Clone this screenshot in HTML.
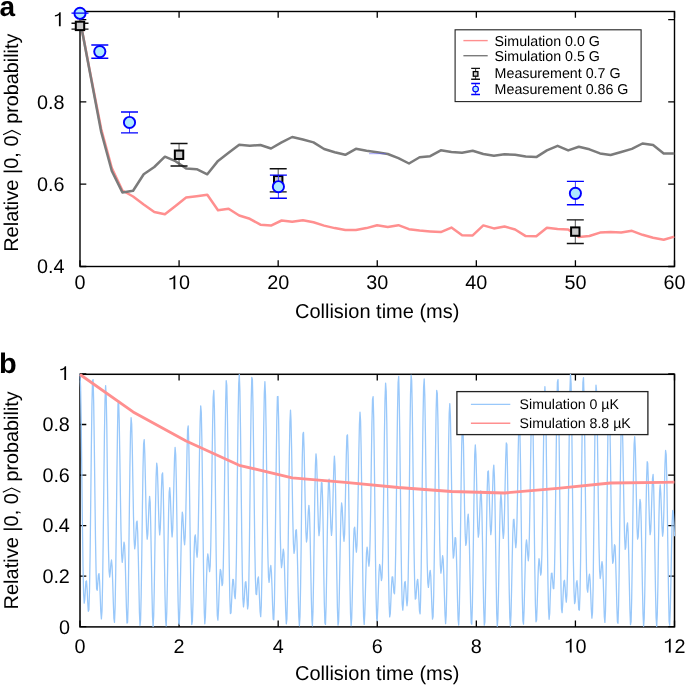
<!DOCTYPE html>
<html><head><meta charset="utf-8"><style>html,body{margin:0;padding:0;background:#fff;overflow:hidden}svg{display:block;will-change:transform;text-rendering:geometricPrecision}</style></head>
<body><svg width="685" height="685" viewBox="0 0 685 685">
<rect width="685" height="685" fill="#fff"/>
<path d="M80.00,266.5v-6.3M80.00,11.5v6.3M179.08,266.5v-6.3M179.08,11.5v6.3M278.17,266.5v-6.3M278.17,11.5v6.3M377.25,266.5v-6.3M377.25,11.5v6.3M476.33,266.5v-6.3M476.33,11.5v6.3M575.42,266.5v-6.3M575.42,11.5v6.3M674.50,266.5v-6.3M674.50,11.5v6.3M80.0,266.50h6.3M674.5,266.50h-6.3M80.0,184.20h6.3M674.5,184.20h-6.3M80.0,101.90h6.3M674.5,101.90h-6.3M80.0,19.60h6.3M674.5,19.60h-6.3" stroke="#000" stroke-width="1.3" fill="none"/>
<rect x="80.0" y="11.5" width="594.50" height="255.00" fill="none" stroke="#000" stroke-width="1.4"/>
<text x="74.49" y="289.30" font-family="Liberation Sans, sans-serif" font-size="19.8">0</text>
<path transform="translate(168.07,289.30) scale(0.00967,-0.00967)" d="M560,0L745,0L745,1434L612,1434C585,1300 455,1165 145,1137L145,1000C330,1012 470,1062 560,1150Z"/><text x="179.08" y="289.30" font-family="Liberation Sans, sans-serif" font-size="19.8">0</text>
<text x="267.15" y="289.30" font-family="Liberation Sans, sans-serif" font-size="19.8">20</text>
<text x="366.24" y="289.30" font-family="Liberation Sans, sans-serif" font-size="19.8">30</text>
<text x="465.32" y="289.30" font-family="Liberation Sans, sans-serif" font-size="19.8">40</text>
<text x="564.40" y="289.30" font-family="Liberation Sans, sans-serif" font-size="19.8">50</text>
<text x="663.49" y="289.30" font-family="Liberation Sans, sans-serif" font-size="19.8">60</text>
<text x="36.98" y="273.10" font-family="Liberation Sans, sans-serif" font-size="19.8">0.4</text>
<text x="36.98" y="190.80" font-family="Liberation Sans, sans-serif" font-size="19.8">0.6</text>
<text x="36.98" y="108.50" font-family="Liberation Sans, sans-serif" font-size="19.8">0.8</text>
<path transform="translate(53.49,26.20) scale(0.00967,-0.00967)" d="M560,0L745,0L745,1434L612,1434C585,1300 455,1165 145,1137L145,1000C330,1012 470,1062 560,1150Z"/>
<text x="377.2" y="317.9" font-family="Liberation Sans, sans-serif" font-size="20" text-anchor="middle">Collision time (ms)</text>
<polyline points="80.0,19.7 90.6,75.0 101.2,129.0 111.8,168.0 122.4,190.5 133.1,196.5 143.7,204.5 154.3,212.0 164.9,214.3 175.5,205.9 186.1,197.6 196.7,196.2 207.3,194.8 218.0,210.3 228.6,208.8 239.2,215.5 249.8,218.8 260.4,224.7 271.0,225.6 281.6,220.5 292.2,221.7 302.9,220.2 313.5,222.3 324.1,225.6 334.7,228.1 345.3,230.0 355.9,229.9 366.5,228.1 377.1,225.2 387.8,227.0 398.4,225.2 409.0,229.2 419.6,230.6 430.2,231.4 440.8,232.1 451.4,227.6 462.1,235.2 472.7,235.4 483.3,225.4 493.9,228.4 504.5,226.5 515.1,229.5 525.7,236.1 536.3,236.2 546.9,227.8 557.6,228.9 568.2,229.5 578.8,237.1 589.4,236.0 600.0,232.6 610.6,232.0 621.2,232.5 631.9,230.8 642.5,234.8 653.1,237.8 663.7,239.8 674.3,236.6" fill="none" stroke="#ff8f8f" stroke-width="2.5" stroke-linejoin="round"/>
<polyline points="80.0,19.7 90.6,76.0 101.2,132.0 111.8,171.0 122.4,192.4 133.1,190.8 143.7,174.3 154.3,167.0 164.9,156.7 175.5,161.2 186.1,168.4 196.7,169.2 207.3,174.3 218.0,160.9 228.6,152.8 239.2,144.8 249.8,145.8 260.4,145.0 271.0,148.5 281.6,142.4 292.2,137.0 302.9,139.5 313.5,142.4 324.1,149.0 334.7,152.2 345.3,154.8 355.9,148.8 366.5,150.8 377.1,152.2 387.8,154.0 398.4,158.1 409.0,163.5 419.6,157.2 430.2,156.2 440.8,150.3 451.4,152.0 462.1,152.8 472.7,150.8 483.3,154.0 493.9,155.7 504.5,154.3 515.1,154.7 525.7,156.6 536.3,157.1 546.9,150.4 557.6,145.8 568.2,150.4 578.8,146.8 589.4,149.3 600.0,153.4 610.6,155.0 621.2,152.0 631.9,148.9 642.5,143.5 653.1,145.1 663.7,153.6 674.3,153.4" fill="none" stroke="#7b7b7b" stroke-width="2.5" stroke-linejoin="round"/>
<path d="M369,153.7H385.9" stroke="#5a5aff" stroke-opacity="0.55" stroke-width="1"/>
<path d="M80.00,23.30V29.10" stroke="#555" stroke-width="1"/><path d="M71.50,23.30h17.0M71.50,29.10h17.0" stroke="#111" stroke-width="1.4"/><rect x="75.80" y="21.70" width="8.4" height="8.4" fill="#cacaca" stroke="#000" stroke-width="2.0"/>
<path d="M179.05,143.50V166.00" stroke="#555" stroke-width="1"/><path d="M170.55,143.50h17.0M170.55,166.00h17.0" stroke="#111" stroke-width="1.4"/><rect x="174.85" y="150.55" width="8.4" height="8.4" fill="#cacaca" stroke="#000" stroke-width="2.0"/>
<path d="M278.20,168.70V191.90" stroke="#555" stroke-width="1"/><path d="M269.70,168.70h17.0M269.70,191.90h17.0" stroke="#111" stroke-width="1.4"/><rect x="274.00" y="176.10" width="8.4" height="8.4" fill="#cacaca" stroke="#000" stroke-width="2.0"/>
<path d="M575.30,219.85V243.45" stroke="#555" stroke-width="1"/><path d="M566.80,219.85h17.0M566.80,243.45h17.0" stroke="#111" stroke-width="1.4"/><rect x="571.10" y="227.40" width="8.4" height="8.4" fill="#cacaca" stroke="#000" stroke-width="2.0"/>
<path d="M80.00,13.10V13.10" stroke="#3c3cff" stroke-width="1"/><circle cx="80.00" cy="13.30" r="5.6" fill="#aee9ff" stroke="#0000ff" stroke-width="1.9"/><path d="M71.50,13.10h17.0M71.50,13.10h17.0" stroke="#0000ff" stroke-width="1.4"/>
<path d="M99.80,45.00V58.20" stroke="#3c3cff" stroke-width="1"/><circle cx="99.80" cy="51.60" r="5.6" fill="#aee9ff" stroke="#0000ff" stroke-width="1.9"/><path d="M91.30,45.00h17.0M91.30,58.20h17.0" stroke="#0000ff" stroke-width="1.4"/>
<path d="M129.50,112.00V132.90" stroke="#3c3cff" stroke-width="1"/><circle cx="129.50" cy="122.45" r="5.6" fill="#aee9ff" stroke="#0000ff" stroke-width="1.9"/><path d="M121.00,112.00h17.0M121.00,132.90h17.0" stroke="#0000ff" stroke-width="1.4"/>
<path d="M278.40,175.10V198.30" stroke="#3c3cff" stroke-width="1"/><circle cx="278.40" cy="186.70" r="5.6" fill="#aee9ff" stroke="#0000ff" stroke-width="1.9"/><path d="M269.90,175.10h17.0M269.90,198.30h17.0" stroke="#0000ff" stroke-width="1.4"/>
<path d="M575.40,181.40V204.80" stroke="#3c3cff" stroke-width="1"/><circle cx="575.40" cy="193.35" r="5.6" fill="#aee9ff" stroke="#0000ff" stroke-width="1.9"/><path d="M566.90,181.40h17.0M566.90,204.80h17.0" stroke="#0000ff" stroke-width="1.4"/>
<rect x="455.1" y="29.8" width="186" height="71.8" fill="#fff" stroke="#222" stroke-width="1.1"/>
<path d="M463.4,40.6H487.7" stroke="#ff8f8f" stroke-width="1.4"/>
<path d="M463.4,55.7H487.7" stroke="#7b7b7b" stroke-width="1.4"/>
<path d="M475.60,68.40V79.30" stroke="#333" stroke-width="1"/><path d="M471.20,68.40h8.8M471.20,79.30h8.8" stroke="#111" stroke-width="1.4"/><rect x="473.30" y="71.60" width="4.6" height="4.6" fill="#cacaca" stroke="#000" stroke-width="1.3"/>
<path d="M475.60,83.50V94.50" stroke="#3c3cff" stroke-width="1"/><circle cx="475.60" cy="89.05" r="2.8" fill="#aee9ff" stroke="#0000ff" stroke-width="1.2"/><path d="M471.20,83.50h8.8M471.20,94.50h8.8" stroke="#0000ff" stroke-width="1.4"/>
<text x="494.6" y="45.6" font-family="Liberation Sans, sans-serif" font-size="14.25">Simulation 0.0 G</text>
<text x="494.6" y="60.6" font-family="Liberation Sans, sans-serif" font-size="14.25">Simulation 0.5 G</text>
<text x="494.6" y="78.2" font-family="Liberation Sans, sans-serif" font-size="14.25">Measurement 0.7 G</text>
<text x="494.6" y="94.2" font-family="Liberation Sans, sans-serif" font-size="14.25">Measurement 0.86 G</text>
<path d="M80.00,626.9v-6.3M80.00,374.3v6.3M179.08,626.9v-6.3M179.08,374.3v6.3M278.17,626.9v-6.3M278.17,374.3v6.3M377.25,626.9v-6.3M377.25,374.3v6.3M476.33,626.9v-6.3M476.33,374.3v6.3M575.42,626.9v-6.3M575.42,374.3v6.3M674.50,626.9v-6.3M674.50,374.3v6.3M80.0,626.60h6.3M674.5,626.60h-6.3M80.0,576.08h6.3M674.5,576.08h-6.3M80.0,525.56h6.3M674.5,525.56h-6.3M80.0,475.04h6.3M674.5,475.04h-6.3M80.0,424.52h6.3M674.5,424.52h-6.3M80.0,374.00h6.3M674.5,374.00h-6.3" stroke="#000" stroke-width="1.3" fill="none"/>
<rect x="80.0" y="374.3" width="594.50" height="252.60" fill="none" stroke="#000" stroke-width="1.5"/>
<text x="74.49" y="652.60" font-family="Liberation Sans, sans-serif" font-size="19.8">0</text>
<text x="173.58" y="652.60" font-family="Liberation Sans, sans-serif" font-size="19.8">2</text>
<text x="272.66" y="652.60" font-family="Liberation Sans, sans-serif" font-size="19.8">4</text>
<text x="371.74" y="652.60" font-family="Liberation Sans, sans-serif" font-size="19.8">6</text>
<text x="470.83" y="652.60" font-family="Liberation Sans, sans-serif" font-size="19.8">8</text>
<path transform="translate(564.40,652.60) scale(0.00967,-0.00967)" d="M560,0L745,0L745,1434L612,1434C585,1300 455,1165 145,1137L145,1000C330,1012 470,1062 560,1150Z"/><text x="575.42" y="652.60" font-family="Liberation Sans, sans-serif" font-size="19.8">0</text>
<path transform="translate(663.49,652.60) scale(0.00967,-0.00967)" d="M560,0L745,0L745,1434L612,1434C585,1300 455,1165 145,1137L145,1000C330,1012 470,1062 560,1150Z"/><text x="674.50" y="652.60" font-family="Liberation Sans, sans-serif" font-size="19.8">2</text>
<text x="58.89" y="633.50" font-family="Liberation Sans, sans-serif" font-size="19.8">0</text>
<text x="42.38" y="582.98" font-family="Liberation Sans, sans-serif" font-size="19.8">0.2</text>
<text x="42.38" y="532.46" font-family="Liberation Sans, sans-serif" font-size="19.8">0.4</text>
<text x="42.38" y="481.94" font-family="Liberation Sans, sans-serif" font-size="19.8">0.6</text>
<text x="42.38" y="431.42" font-family="Liberation Sans, sans-serif" font-size="19.8">0.8</text>
<path transform="translate(58.89,380.00) scale(0.00967,-0.00967)" d="M560,0L745,0L745,1434L612,1434C585,1300 455,1165 145,1137L145,1000C330,1012 470,1062 560,1150Z"/>
<text x="377.2" y="679.9" font-family="Liberation Sans, sans-serif" font-size="20" text-anchor="middle">Collision time (ms)</text>
<polyline points="80.0,374.0 80.6,386.9 81.2,422.3 81.8,471.5 82.4,523.1 83.0,566.1 83.6,593.3 84.2,603.1 84.8,599.3 85.4,589.4 85.9,581.5 86.5,581.0 87.1,589.1 87.7,601.7 88.3,611.3 88.9,609.7 89.5,591.1 90.1,554.5 90.7,504.8 91.3,451.6 91.9,406.8 92.5,380.8 93.1,379.6 93.7,402.9 94.3,444.5 94.9,493.8 95.5,539.4 96.1,572.4 96.6,588.8 97.2,590.3 97.8,583.1 98.4,575.2 99.0,573.6 99.6,581.2 100.2,596.0 100.8,611.4 101.4,618.9 102.0,610.9 102.6,584.0 103.2,540.3 103.8,487.7 104.4,437.2 105.0,400.4 105.6,385.6 106.2,395.5 106.8,426.6 107.3,470.1 107.9,514.8 108.5,550.6 109.1,571.5 109.7,577.0 110.3,571.8 110.9,563.5 111.5,560.0 112.1,566.2 112.7,581.9 113.3,602.1 113.9,618.4 114.5,622.3 115.1,607.7 115.7,574.0 116.3,526.3 116.9,474.6 117.5,430.5 118.0,404.1 118.6,400.7 119.2,419.8 119.8,454.7 120.4,495.3 121.0,531.1 121.6,554.2 122.2,562.3 122.8,558.0 123.4,548.6 124.0,542.2 124.6,545.3 125.2,560.1 125.8,583.3 126.4,607.4 127.0,623.0 127.6,622.3 128.2,601.6 128.7,563.3 129.3,515.1 129.9,467.9 130.5,432.9 131.1,417.7 131.7,424.4 132.3,449.1 132.9,483.3 133.5,516.4 134.1,539.8 134.7,548.8 135.3,544.6 135.9,533.0 136.5,522.6 137.1,521.1 137.7,532.7 138.3,556.3 138.9,585.9 139.4,612.1 140.0,625.5 140.6,619.9 141.2,594.4 141.8,554.1 142.4,508.5 143.0,468.7 143.6,444.2 144.2,439.6 144.8,453.7 145.4,479.9 146.0,508.6 146.6,530.3 147.2,539.1 147.8,534.1 148.4,519.8 149.0,504.3 149.6,496.4 150.2,502.4 150.7,523.6 151.3,555.6 151.9,589.9 152.5,616.3 153.1,626.4 153.7,616.0 154.3,587.4 154.9,547.7 155.5,507.6 156.1,477.1 156.7,463.2 157.3,467.3 157.9,485.0 158.5,508.2 159.1,527.2 159.7,534.9 160.3,528.6 160.9,511.2 161.4,490.2 162.0,474.7 162.6,472.9 163.2,488.4 163.8,519.2 164.4,558.3 165.0,595.3 165.6,620.1 166.2,625.9 166.8,611.5 167.4,581.7 168.0,545.2 168.6,512.6 169.2,492.1 169.8,487.7 170.4,497.5 171.0,514.8 171.6,530.6 172.1,536.9 172.7,529.4 173.3,509.2 173.9,482.6 174.5,458.9 175.1,447.5 175.7,454.5 176.3,480.5 176.9,520.3 177.5,564.3 178.1,601.6 178.7,623.0 179.3,624.2 179.9,606.9 180.5,577.8 181.1,546.8 181.7,522.9 182.3,512.1 182.8,515.0 183.4,526.8 184.0,539.6 184.6,544.8 185.2,536.7 185.8,514.6 186.4,483.3 187.0,451.6 187.6,429.7 188.2,425.9 188.8,443.5 189.4,479.7 190.0,526.5 190.6,572.8 191.2,607.8 191.8,624.5 192.4,621.2 193.0,602.3 193.5,576.1 194.1,551.9 194.7,537.2 195.3,534.8 195.9,542.1 196.5,552.3 197.1,557.1 197.7,549.5 198.3,527.0 198.9,492.5 199.5,454.0 200.1,421.8 200.7,405.9 201.3,412.3 201.9,441.0 202.5,486.0 203.1,537.0 203.7,582.4 204.3,612.9 204.8,623.8 205.4,616.6 206.0,597.7 206.6,576.0 207.2,559.8 207.8,553.9 208.4,557.8 209.0,566.3 209.6,571.6 210.2,566.0 210.8,545.0 211.4,509.7 212.0,466.3 212.6,425.2 213.2,397.2 213.8,390.5 214.4,408.3 215.0,447.1 215.5,498.2 216.1,549.9 216.7,591.3 217.3,615.3 217.9,620.2 218.5,610.1 219.1,593.0 219.7,577.3 220.3,569.4 220.9,571.0 221.5,578.8 222.1,585.6 222.7,583.3 223.3,566.1 223.9,532.7 224.5,487.5 225.1,439.8 225.7,400.8 226.2,380.7 226.8,385.3 227.4,414.2 228.0,460.7 228.6,514.2 229.2,562.9 229.8,597.5 230.4,613.6 231.0,612.9 231.6,601.5 232.2,587.9 232.8,579.4 233.4,579.6 234.0,587.1 234.6,596.2 235.2,598.7 235.8,587.3 236.4,558.8 236.9,515.2 237.5,464.2 238.1,416.7 238.7,384.1 239.3,374.6 239.9,390.9 240.5,428.9 241.1,479.6 241.7,531.3 242.3,573.3 242.9,598.9 243.5,606.9 244.1,601.7 244.7,590.9 245.3,582.5 245.9,581.7 246.5,589.3 247.1,600.9 247.6,608.9 248.2,605.2 248.8,584.4 249.4,546.1 250.0,495.7 250.6,443.2 251.2,400.4 251.8,377.4 252.4,379.6 253.0,406.2 253.6,450.2 254.2,500.7 254.8,546.5 255.4,578.8 256.0,594.1 256.6,594.6 257.2,586.7 257.8,578.6 258.4,576.9 258.9,584.2 259.5,598.1 260.1,611.7 260.7,616.7 261.3,605.8 261.9,576.3 262.5,530.7 263.1,477.5 263.7,427.9 264.3,393.4 264.9,381.7 265.5,395.0 266.1,429.1 266.7,474.7 267.3,520.5 267.9,556.6 268.5,577.3 269.1,582.3 269.6,576.9 270.2,568.7 270.8,565.5 271.4,571.7 272.0,586.8 272.6,605.4 273.2,619.3 273.8,619.8 274.4,601.8 275.0,565.1 275.6,515.7 276.2,463.6 276.8,420.7 277.4,396.7 278.0,396.5 278.6,418.8 279.2,456.4 279.8,498.9 280.3,535.7 280.9,559.4 281.5,567.6 282.1,563.7 282.7,554.8 283.3,549.2 283.9,552.9 284.5,567.6 285.1,589.7 285.7,611.5 286.3,623.8 286.9,619.2 287.5,594.7 288.1,553.4 288.7,503.6 289.3,456.4 289.9,422.9 290.5,410.2 291.0,420.0 291.6,447.7 292.2,484.2 292.8,519.0 293.4,543.5 294.0,553.3 294.6,549.9 295.2,539.4 295.8,530.2 296.4,529.8 297.0,542.0 297.6,565.2 298.2,593.1 298.8,616.3 299.4,625.8 300.0,615.9 300.6,586.5 301.2,543.4 301.7,496.5 302.3,457.1 302.9,434.3 303.5,432.3 304.1,449.2 304.7,478.0 305.3,508.7 305.9,532.0 306.5,542.0 307.1,538.1 307.7,525.2 308.3,511.4 308.9,505.3 309.5,512.6 310.1,534.2 310.7,565.4 311.3,597.4 311.9,620.2 312.4,625.8 313.0,611.1 313.6,578.7 314.2,536.7 314.8,495.7 315.4,465.9 316.0,453.8 316.6,460.3 317.2,480.6 317.8,505.8 318.4,526.6 319.0,535.6 319.6,530.7 320.2,515.0 320.8,495.9 321.4,482.6 322.0,482.8 322.6,499.6 323.2,530.6 323.7,568.3 324.3,602.4 324.9,623.1 325.5,624.4 326.1,605.8 326.7,572.6 327.3,534.3 327.9,501.3 328.5,481.8 329.1,479.2 329.7,491.0 330.3,510.3 330.9,527.8 331.5,535.4 332.1,529.3 332.7,510.7 333.3,486.1 333.9,464.9 334.4,456.1 335.0,465.2 335.6,492.4 336.2,531.9 336.8,574.0 337.4,607.9 338.0,625.1 338.6,621.9 339.2,600.7 339.8,569.0 340.4,536.6 341.0,512.8 341.6,503.0 342.2,507.4 342.8,520.9 343.4,535.0 344.0,541.3 344.6,534.3 345.1,513.6 345.7,484.1 346.3,454.9 346.9,435.9 347.5,434.9 348.1,454.6 348.7,491.7 349.3,537.8 349.9,581.7 350.5,613.2 351.1,625.7 351.7,618.4 352.3,596.3 352.9,568.0 353.5,543.0 354.1,528.7 354.7,527.2 355.3,535.5 355.8,546.7 356.4,552.2 357.0,545.3 357.6,523.7 358.2,490.6 358.8,454.2 359.4,424.9 360.0,412.2 360.6,421.4 361.2,452.0 361.8,497.5 362.4,547.5 363.0,590.4 363.6,617.3 364.2,624.4 364.8,613.8 365.4,592.4 366.0,569.3 366.5,552.8 367.1,547.1 367.7,551.6 368.3,560.6 368.9,566.2 369.5,560.6 370.1,539.8 370.7,505.2 371.3,463.5 371.9,424.8 372.5,399.9 373.1,396.6 373.7,417.2 374.3,457.7 374.9,508.9 375.5,559.3 376.1,598.2 376.7,618.9 377.2,620.6 377.8,607.9 378.4,589.0 379.0,572.5 379.6,564.5 380.2,566.2 380.8,574.0 381.4,580.5 382.0,577.7 382.6,560.0 383.2,526.5 383.8,482.0 384.4,436.0 385.0,399.8 385.6,383.1 386.2,391.0 386.8,422.5 387.4,470.5 388.0,523.9 388.5,571.2 389.1,603.4 389.7,616.9 390.3,613.6 390.9,600.4 391.5,585.7 392.1,576.8 392.7,576.8 393.3,584.1 393.9,592.5 394.5,593.8 395.1,581.2 395.7,551.7 396.3,507.8 396.9,457.6 397.5,412.1 398.1,382.5 398.7,376.5 399.2,396.0 399.8,436.4 400.4,488.3 401.0,539.8 401.6,580.5 402.2,604.2 402.8,610.2 403.4,603.3 404.0,591.4 404.6,582.5 405.2,581.5 405.8,588.7 406.4,599.4 407.0,605.8 407.6,600.2 408.2,577.5 408.8,537.8 409.4,487.1 409.9,435.6 410.5,395.1 411.1,375.2 411.7,380.9 412.3,410.6 412.9,456.7 413.5,508.2 414.1,553.8 414.7,585.1 415.3,599.1 415.9,598.3 416.5,589.6 417.1,581.2 417.7,579.3 418.3,586.2 418.9,599.1 419.5,611.1 420.1,613.8 420.6,600.3 421.2,568.3 421.8,521.3 422.4,467.8 423.0,419.5 423.6,387.4 424.2,379.0 424.8,395.8 425.4,432.7 426.0,480.2 426.6,526.9 427.2,562.9 427.8,583.0 428.4,587.4 429.0,581.6 429.6,573.4 430.2,570.3 430.8,576.4 431.3,590.7 431.9,607.8 432.5,619.1 433.1,616.6 433.7,595.3 434.3,556.0 434.9,505.1 435.5,453.1 436.1,411.7 436.7,390.4 437.3,393.4 437.9,418.9 438.5,459.1 439.1,503.3 439.7,541.0 440.3,564.8 440.9,573.1 441.5,569.3 442.1,560.8 442.6,555.7 443.2,559.7 443.8,574.2 444.4,595.1 445.0,614.5 445.6,623.6 446.2,615.2 446.8,587.2 447.4,543.3 448.0,492.1 448.6,445.3 449.2,413.5 449.8,403.7 450.4,416.6 451.0,447.2 451.6,486.1 452.2,522.4 452.8,547.7 453.3,558.1 453.9,555.4 454.5,545.7 455.1,537.6 455.7,538.1 456.3,550.7 456.9,573.3 457.5,599.4 458.1,619.5 458.7,625.0 459.3,611.0 459.9,577.9 460.5,532.4 461.1,484.6 461.7,445.9 462.3,425.1 462.9,425.8 463.5,445.6 464.0,477.0 464.6,509.7 465.2,534.4 465.8,545.4 466.4,542.6 467.0,531.0 467.6,518.7 468.2,514.1 468.8,522.5 469.4,544.3 470.0,574.4 470.6,603.9 471.2,623.0 471.8,624.2 472.4,605.2 473.0,569.4 473.6,525.2 474.2,483.7 474.7,455.0 475.3,445.0 475.9,454.1 476.5,476.8 477.1,504.2 477.7,526.7 478.3,537.1 478.9,533.5 479.5,519.3 480.1,502.1 480.7,490.8 481.3,492.8 481.9,510.7 482.5,541.6 483.1,577.6 483.7,608.6 484.3,625.2 484.9,621.9 485.4,599.1 486.0,562.9 486.6,522.9 487.2,489.9 487.8,471.6 488.4,471.0 489.0,485.1 489.6,506.4 490.2,525.6 490.8,534.7 491.4,529.9 492.0,512.9 492.6,490.4 493.2,471.6 493.8,465.1 494.4,476.2 495.0,504.2 495.6,543.1 496.2,583.0 496.7,613.4 497.3,626.2 497.9,618.6 498.5,593.6 499.1,559.3 499.7,525.9 500.3,502.4 500.9,493.9 501.5,500.1 502.1,515.3 502.7,530.9 503.3,538.4 503.9,532.6 504.5,513.3 505.1,485.8 505.7,459.1 506.3,442.9 506.9,444.5 507.4,466.0 508.0,503.7 508.6,548.7 509.2,590.1 509.8,617.8 510.4,626.0 511.0,614.6 511.6,589.3 512.2,559.1 512.8,533.6 513.4,519.7 514.0,519.3 514.6,529.0 515.2,541.3 515.8,547.7 516.4,541.6 517.0,521.0 517.6,489.5 518.1,455.4 518.7,429.0 519.3,419.3 519.9,431.2 520.5,463.5 521.1,509.2 521.7,557.7 522.3,597.7 522.9,620.9 523.5,624.1 524.1,610.0 524.7,586.1 525.3,561.8 525.9,545.0 526.5,539.9 527.1,545.1 527.7,554.8 528.3,560.8 528.8,555.5 529.4,535.2 530.0,501.6 530.6,461.6 531.2,425.6 531.8,403.8 532.4,403.7 533.0,426.8 533.6,468.7 534.2,519.8 534.8,568.5 535.4,604.5 536.0,621.8 536.6,620.1 537.2,604.7 537.8,584.0 538.4,566.8 539.0,558.7 539.5,560.8 540.1,568.8 540.7,575.2 541.3,572.1 541.9,554.1 542.5,520.8 543.1,477.3 543.7,433.3 544.3,400.0 544.9,386.6 545.5,397.8 546.1,431.7 546.7,480.7 547.3,533.7 547.9,579.2 548.5,608.8 549.1,619.3 549.7,613.5 550.2,598.4 550.8,582.6 551.4,573.3 552.0,573.2 552.6,580.3 553.2,588.2 553.8,588.7 554.4,575.0 555.0,544.8 555.6,500.9 556.2,451.8 556.8,408.6 557.4,382.1 558.0,379.6 558.6,402.2 559.2,444.8 559.8,497.5 560.4,548.5 561.0,587.5 561.5,608.9 562.1,612.7 562.7,604.0 563.3,591.1 563.9,581.6 564.5,580.3 565.1,587.1 565.7,597.0 566.3,602.1 566.9,594.8 567.5,570.4 568.1,529.7 568.7,479.1 569.3,428.9 569.9,390.9 570.5,374.3 571.1,383.5 571.7,416.0 572.2,464.1 572.8,516.2 573.4,561.3 574.0,591.3 574.6,603.6 575.2,601.5 575.8,591.8 576.4,582.9 577.0,580.7 577.6,587.3 578.2,599.3 578.8,609.7 579.4,610.1 580.0,594.2 580.6,560.2 581.2,512.0 581.8,458.7 582.4,411.9 582.9,382.6 583.5,377.6 584.1,397.6 584.7,437.3 585.3,486.5 585.9,533.7 586.5,569.4 587.1,588.6 587.7,592.2 588.3,585.7 588.9,577.3 589.5,574.2 590.1,580.1 590.7,593.7 591.3,609.2 591.9,618.1 592.5,612.6 593.1,588.4 593.6,546.8 594.2,494.7 594.8,443.1 595.4,403.5 596.0,385.1 596.6,391.5 597.2,420.1 597.8,462.8 598.4,508.5 599.0,546.7 599.6,570.5 600.2,578.5 600.8,574.6 601.4,566.3 602.0,561.6 602.6,565.9 603.2,579.9 603.8,599.5 604.3,616.6 604.9,622.4 605.5,610.5 606.1,579.2 606.7,532.9 607.3,480.9 607.9,434.7 608.5,405.0 609.1,398.1 609.7,414.3 610.3,447.8 610.9,488.8 611.5,526.4 612.1,552.5 612.7,563.3 613.3,561.0 613.9,552.0 614.5,544.7 615.1,546.0 615.6,558.7 616.2,580.6 616.8,604.7 617.4,621.7 618.0,623.3 618.6,605.3 619.2,568.9 619.8,521.1 620.4,472.8 621.0,435.1 621.6,416.5 622.2,420.2 622.8,443.0 623.4,476.9 624.0,511.4 624.6,537.4 625.2,549.4 625.8,547.5 626.3,537.0 626.9,526.1 627.5,522.8 628.1,532.1 628.7,553.8 629.3,582.6 629.9,609.4 630.5,624.7 631.1,621.7 631.7,598.5 632.3,559.4 632.9,513.5 633.5,471.9 634.1,444.4 634.7,436.7 635.3,448.5 635.9,473.9 636.5,503.4 637.0,527.5 637.6,539.2 638.2,536.9 638.8,524.1 639.4,508.6 640.0,499.3 640.6,502.9 641.2,521.6 641.8,552.1 642.4,586.2 643.0,613.9 643.6,626.2 644.2,618.4 644.8,591.6 645.4,552.5 646.0,511.3 646.6,478.5 647.2,461.7 647.7,463.2 648.3,479.7 648.9,503.2 649.5,524.1 650.1,534.6 650.7,531.2 651.3,515.8 651.9,495.3 652.5,478.7 653.1,474.5 653.7,487.3 654.3,515.8 654.9,553.9 655.5,591.4 656.1,618.0 656.7,626.3 657.3,614.3 657.9,585.7 658.4,549.1 659.0,514.8 659.6,491.9 660.2,484.9 660.8,493.0 661.4,510.1 662.0,527.3 662.6,536.2 663.2,531.7 663.8,513.9 664.4,488.3 665.0,464.0 665.6,450.5 666.2,454.5 666.8,477.7 667.4,515.6 668.0,559.2 668.6,597.7 669.1,621.4 669.7,625.2 670.3,609.8 670.9,581.4 671.5,549.5 672.1,523.7 672.7,510.5 673.3,511.5 673.9,522.6 674.5,536.2" fill="none" stroke="#99c8fa" stroke-width="1.3" stroke-linejoin="round"/>
<polyline points="80.0,374.5 133.1,411.9 186.1,441.1 239.2,465.3 292.2,477.8 345.3,482.3 398.3,487.5 451.4,491.5 504.4,493.0 557.5,488.3 610.5,483.0 663.6,482.3 674.4,482.1" fill="none" stroke="#ff8f8f" stroke-width="2.8" stroke-linejoin="round"/>
<rect x="456.9" y="391.6" width="191" height="43" fill="#fff" stroke="#222" stroke-width="1.3"/>
<path d="M470.9,404.4H510.3" stroke="#99c8fa" stroke-width="1.3"/>
<path d="M470.9,423.2H510.3" stroke="#ff8f8f" stroke-width="1.4"/>
<text x="519.6" y="408.8" font-family="Liberation Sans, sans-serif" font-size="14.15">Simulation 0 µK</text>
<text x="519.6" y="427.7" font-family="Liberation Sans, sans-serif" font-size="14.15">Simulation 8.8 µK</text>
<g transform="translate(18.0,251.84) rotate(-90)"><text x="0" y="0" font-family="Liberation Sans, sans-serif" font-size="20">Relative |0, 0</text><path d="M117.2,-14.9L121.4,-6.0L117.2,2.8" fill="none" stroke="#000" stroke-width="1.1"/><text x="128.0" y="0" font-family="Liberation Sans, sans-serif" font-size="19.8">probability</text></g>
<g transform="translate(17.7,609.5) rotate(-90)"><text x="0" y="0" font-family="Liberation Sans, sans-serif" font-size="20">Relative |0, 0</text><path d="M117.2,-14.9L121.4,-6.0L117.2,2.8" fill="none" stroke="#000" stroke-width="1.1"/><text x="128.0" y="0" font-family="Liberation Sans, sans-serif" font-size="19.8">probability</text></g>
<text transform="translate(-0.6,16.0)" font-family="Liberation Sans, sans-serif" font-weight="bold" font-size="28">a</text>
<text transform="translate(-0.9,372.7) scale(1,0.98)" font-family="Liberation Sans, sans-serif" font-weight="bold" font-size="29">b</text>
</svg></body></html>
